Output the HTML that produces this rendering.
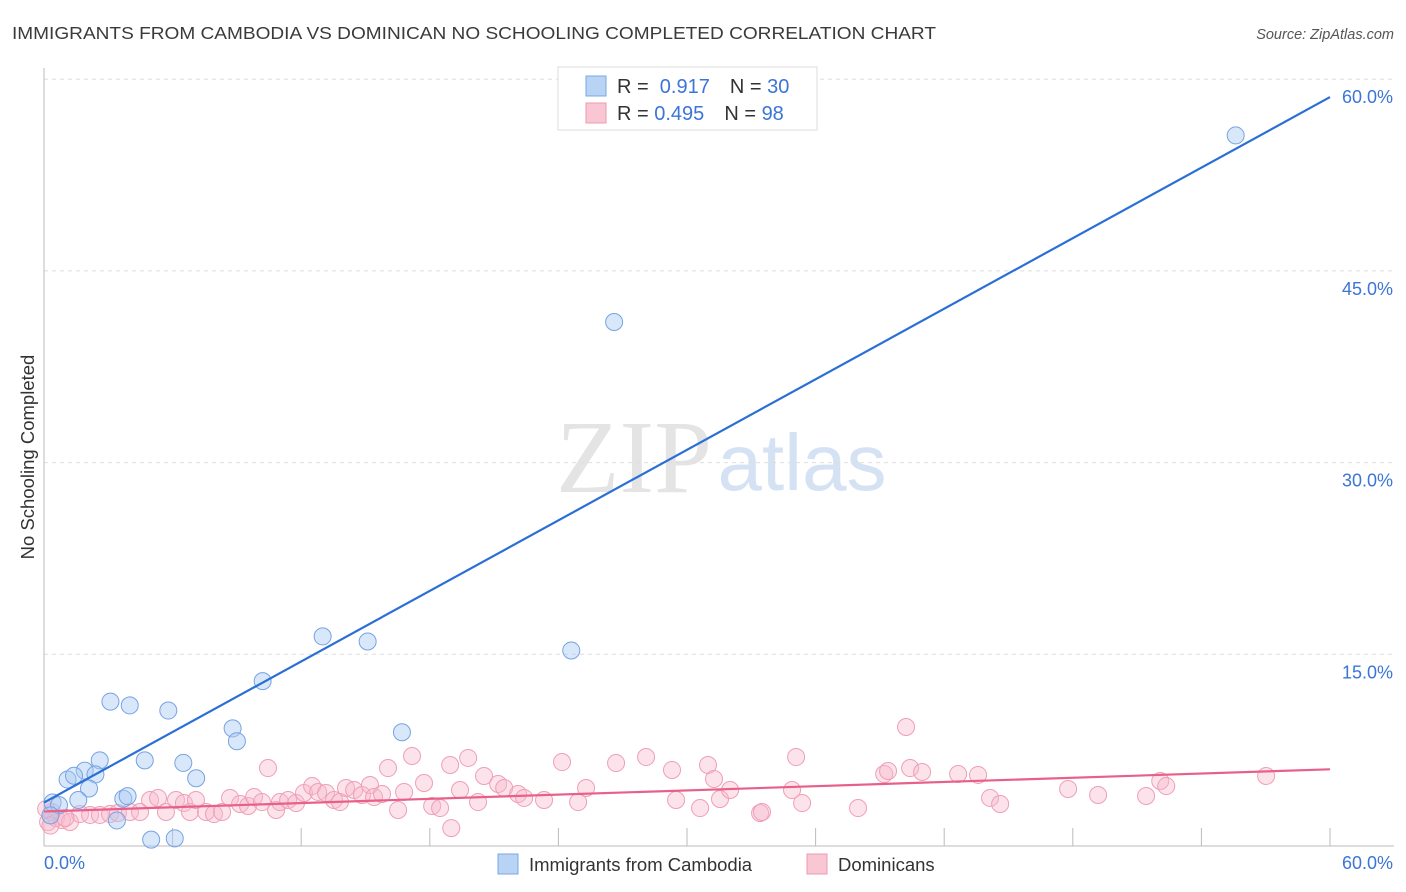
<!DOCTYPE html>
<html><head><meta charset="utf-8"><style>
body{margin:0;background:#fff;font-family:"Liberation Sans",sans-serif;}
svg{display:block}
</style></head><body>
<svg id="chart" width="1406" height="892">
<text x="12" y="39" font-size="17.5" fill="#3a3a3a" textLength="924" lengthAdjust="spacingAndGlyphs">IMMIGRANTS FROM CAMBODIA VS DOMINICAN NO SCHOOLING COMPLETED CORRELATION CHART</text>
<text x="1394" y="39" font-size="14.5" fill="#555" font-style="italic" text-anchor="end">Source: ZipAtlas.com</text>
<text transform="translate(34,457) rotate(-90)" font-size="18.5" fill="#333" text-anchor="middle">No Schooling Completed</text>
<g>
<text x="634" y="492" font-size="104" fill="#e4e4e4" font-family="Liberation Serif,serif" text-anchor="middle">ZIP</text>
<text x="802" y="490" font-size="80" fill="#d4e2f4" text-anchor="middle">atlas</text>
</g>
<g id="grid"></g>
<g id="axes"></g>
<g id="pts"></g>
<g id="lines"></g>
<g>
<rect x="558" y="67" width="259" height="63" fill="#fff" stroke="#ddd"/>
<rect x="586" y="76" width="20" height="20" fill="#b9d3f5" stroke="#7aa7e5"/>
<rect x="586" y="103" width="20" height="20" fill="#f9c6d4" stroke="#eb9ab2"/>
<text x="617" y="93" font-size="20" fill="#333">R = <tspan fill="#3b75d6">&#160;0.917</tspan><tspan dx="20">N = </tspan><tspan fill="#3b75d6">30</tspan></text>
<text x="617" y="120" font-size="20" fill="#333">R = <tspan fill="#3b75d6">0.495</tspan><tspan dx="20">N = </tspan><tspan fill="#3b75d6">98</tspan></text>
</g>
<g>
<rect x="498" y="854" width="20" height="20" fill="#b9d3f5" stroke="#7aa7e5"/>
<text x="529" y="871" font-size="18.5" fill="#333">Immigrants from Cambodia</text>
<rect x="807" y="854" width="20" height="20" fill="#f9c6d4" stroke="#eb9ab2"/>
<text x="838" y="871" font-size="18.5" fill="#333">Dominicans</text>
</g>
</svg>
<script>
const blueX=[55.6,26.6,13.0,15.1,24.6,10.2,3.1,4.0,5.8,8.8,9.0,16.7,4.7,2.6,6.5,1.9,7.1,1.1,1.4,2.4,2.1,1.6,3.7,3.9,0.4,0.7,3.4,5.0,6.1,0.3];
const blueY=[55.6,41.0,16.4,16.0,15.3,12.9,11.3,11.0,10.6,9.2,8.2,8.9,6.7,6.7,6.5,5.9,5.3,5.2,5.5,5.6,4.5,3.6,3.7,3.9,3.4,3.2,2.0,0.5,0.6,2.4];
const pinkX=[0.19,0.56,0.84,1.21,0.37,1.68,2.15,2.61,3.08,3.45,4.01,4.48,4.95,5.32,5.69,6.16,6.53,6.81,7.09,7.56,7.93,8.31,8.68,9.15,9.52,9.80,10.17,10.45,10.83,11.01,11.39,11.76,12.13,12.51,12.79,13.16,13.53,13.81,14.09,14.47,14.84,15.21,15.40,15.77,16.05,16.52,16.80,17.17,17.73,18.11,18.48,18.95,19.41,19.79,20.25,20.53,21.19,21.47,22.12,22.40,23.33,24.17,24.92,25.29,26.69,28.09,29.30,29.49,30.61,30.98,31.26,31.54,32.01,33.41,33.50,34.90,35.09,35.37,37.98,39.20,39.38,40.22,40.41,40.97,42.65,43.58,44.14,44.61,47.78,49.18,51.42,52.08,52.36,57.02,19.0,0.1,0.3,1.0];
const pinkY=[1.88,2.19,2.03,1.88,2.66,2.50,2.43,2.43,2.50,2.58,2.66,2.66,3.60,3.76,2.66,3.60,3.36,2.66,3.60,2.66,2.50,2.66,3.76,3.29,3.13,3.83,3.44,6.10,2.82,3.44,3.60,3.36,4.15,4.69,4.23,4.15,3.60,3.44,4.54,4.38,3.99,4.77,3.83,4.07,6.10,2.82,4.23,7.04,4.93,3.13,2.97,6.34,4.38,6.89,3.44,5.48,4.85,4.54,4.07,3.76,3.60,6.57,3.44,4.54,6.49,6.96,5.95,3.60,2.97,6.34,5.24,3.68,4.38,2.58,2.66,4.38,6.96,3.36,2.97,5.63,5.87,9.31,6.10,5.79,5.63,5.56,3.76,3.29,4.46,3.99,3.91,5.09,4.69,5.48,1.4,2.9,1.6,2.2];
const yTicks=[15,30,45,60];
const yTickLabels=["15.0%","30.0%","45.0%","60.0%"];
const blueFit=[3.4,58.6];
const pinkFit=[2.7,6.0];
const NS="http://www.w3.org/2000/svg";
const X=v=>44+v*(1286/60);
const Y=v=>846-v*(191.7/15);
function mk(tag,attrs,parent){const e=document.createElementNS(NS,tag);for(const k in attrs)e.setAttribute(k,attrs[k]);parent.appendChild(e);return e;}
const grid=document.getElementById('grid'),axes=document.getElementById('axes'),pts=document.getElementById('pts'),lines=document.getElementById('lines');
yTicks.forEach((t,i)=>{
  const l=mk('line',{x1:44,x2:1394,y1:Y(t),y2:Y(t),stroke:'#dedede','stroke-dasharray':'4,4'},grid);
  
  
  const tx=mk('text',{x:1393,y:Y(t)+24,'font-size':18,fill:'#3b75d6','text-anchor':'end'},axes);
  tx.textContent=yTickLabels[i];
  
  
});
const ya=mk('line',{x1:44,x2:44,y1:68,y2:846,stroke:'#bbb'},axes);


const xa=mk('line',{x1:44,x2:1394,y1:846,y2:846,stroke:'#bbb'},axes);


for(let i=1;i<=10;i++){
  const tk=mk('line',{x1:X(i*6),x2:X(i*6),y1:828,y2:846,stroke:'#bbb'},axes);
  
  
}
const xl0=mk('text',{x:44,y:869,'font-size':18,fill:'#3b75d6'},axes);xl0.textContent='0.0%';


const xl1=mk('text',{x:1393,y:869,'font-size':18,fill:'#3b75d6','text-anchor':'end'},axes);xl1.textContent='60.0%';


pinkX.forEach((x,i)=>{
  const c=mk('circle',{cx:X(x),cy:Y(pinkY[i]),r:8.5,fill:'rgba(248,186,205,0.4)',stroke:'#ee9fb6','stroke-width':1},pts);
  
  
});
blueX.forEach((x,i)=>{
  const c=mk('circle',{cx:X(x),cy:Y(blueY[i]),r:8.5,fill:'rgba(170,202,244,0.45)',stroke:'#76a3e2','stroke-width':1},pts);
  
  
});
const bl=mk('line',{x1:X(0),y1:Y(blueFit[0]),x2:X(60),y2:Y(blueFit[1]),stroke:'#2b6fd6','stroke-width':2.2},lines);


const pl=mk('line',{x1:X(0),y1:Y(pinkFit[0]),x2:X(60),y2:Y(pinkFit[1]),stroke:'#e8608a','stroke-width':2.2},lines);


</script>
</body></html>
